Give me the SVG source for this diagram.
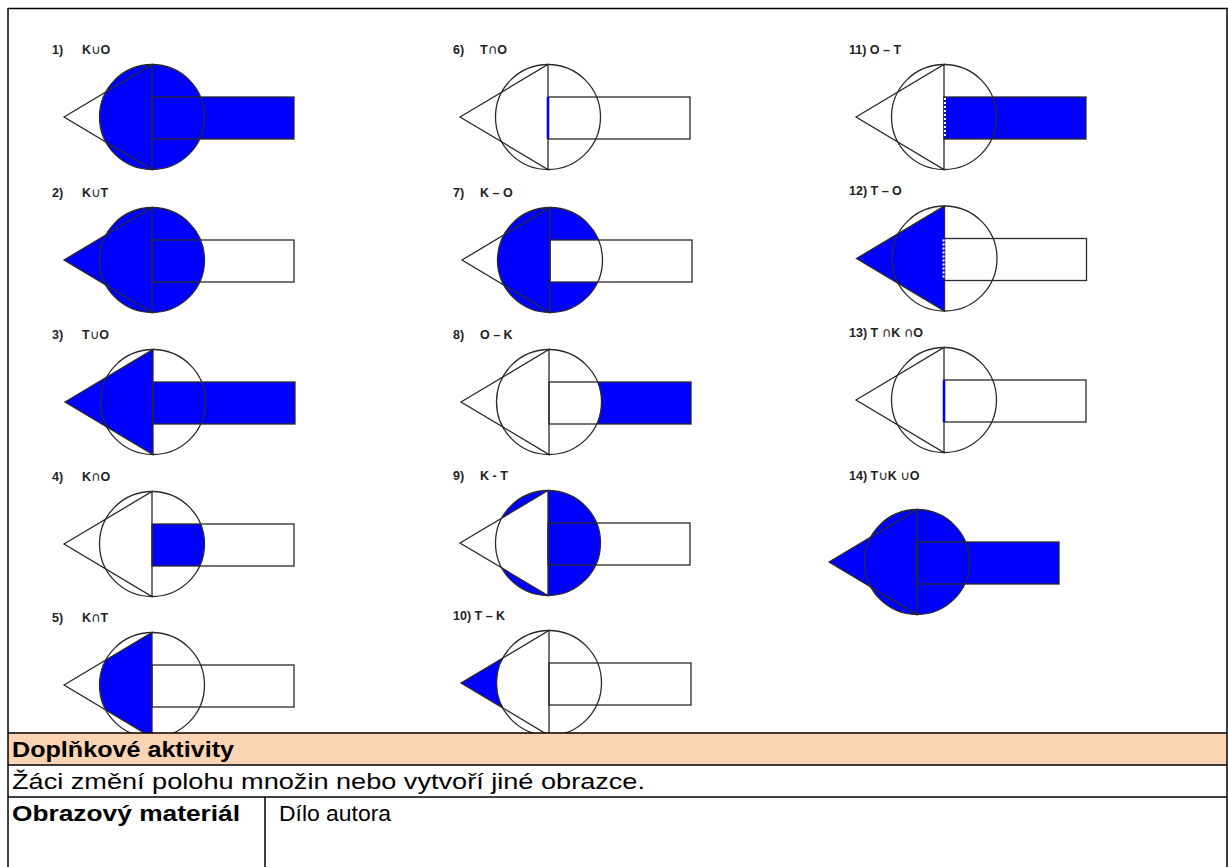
<svg xmlns="http://www.w3.org/2000/svg" xmlns:xlink="http://www.w3.org/1999/xlink" width="1228" height="867" viewBox="0 0 1228 867">
<style>
.ol{fill:none;stroke:#2a2a2a;stroke-width:1.3}
.bl{fill:#0000fe;stroke:none}
.wh{fill:#fff;stroke:none}
.seg{stroke:#0000fe;stroke-width:2.6;fill:none}
.dash{stroke:#fff;stroke-width:2;stroke-dasharray:2 2;fill:none}
.lab{font-family:"Liberation Sans","DejaVu Sans",sans-serif;font-weight:bold;font-size:12.5px;fill:#222}
.sym{font-family:"DejaVu Sans",sans-serif;font-weight:normal;font-size:13px}
.tb{font-family:"Liberation Sans",Arial,sans-serif;font-size:22px;fill:#000}
.bd{font-weight:bold}
.ln{stroke:#000;stroke-width:1.5;fill:none}
</style>
<defs>
<circle id="K" cx="0" cy="0" r="52.5"/>
<polygon id="T" points="-88,0 0,-52.5 0,52.5"/>
<rect id="O" x="0" y="-20" width="142" height="42"/>
<clipPath id="cK"><circle cx="0" cy="0" r="52.5"/></clipPath>
<g id="outl" class="ol"><use xlink:href="#K"/><use xlink:href="#T"/><use xlink:href="#O"/></g>
</defs>
<rect width="1228" height="867" fill="#fff"/>

<!-- labels -->
<g id="labels" class="lab">
<text x="52" y="54">1)<tspan x="82">K</tspan><tspan class="sym">∪</tspan>O</text>
<text x="52" y="197">2)<tspan x="82">K</tspan><tspan class="sym">∪</tspan>T</text>
<text x="52" y="339">3)<tspan x="82">T</tspan><tspan class="sym">∪</tspan>O</text>
<text x="52" y="481">4)<tspan x="82">K</tspan><tspan class="sym">∩</tspan>O</text>
<text x="52" y="622">5)<tspan x="82">K</tspan><tspan class="sym">∩</tspan>T</text>
<text x="453" y="54">6)<tspan x="480">T</tspan><tspan class="sym">∩</tspan>O</text>
<text x="453" y="197">7)<tspan x="480">K – O</tspan></text>
<text x="453" y="339">8)<tspan x="480">O – K</tspan></text>
<text x="453" y="480">9)<tspan x="480">K - T</tspan></text>
<text x="453" y="620">10) T – K</text>
<text x="849" y="54">11) O – T</text>
<text x="849" y="195">12) T – O</text>
<text x="849" y="337">13) T <tspan class="sym">∩</tspan>K <tspan class="sym">∩</tspan>O</text>
<text x="849" y="480">14) T<tspan class="sym">∪</tspan>K <tspan class="sym">∪</tspan>O</text>
</g>

<!-- 1 K∪O -->
<g id="fig1" transform="translate(152,117)">
<use xlink:href="#K" class="bl"/><use xlink:href="#O" class="bl"/><use xlink:href="#outl"/>
</g>
<!-- 2 K∪T -->
<g id="fig2" transform="translate(152,260)">
<use xlink:href="#K" class="bl"/><use xlink:href="#T" class="bl"/><use xlink:href="#outl"/>
</g>
<!-- 3 T∪O -->
<g id="fig3" transform="translate(153,402)">
<use xlink:href="#T" class="bl"/><use xlink:href="#O" class="bl"/><use xlink:href="#outl"/>
</g>
<!-- 4 K∩O -->
<g id="fig4" transform="translate(152,544)">
<use xlink:href="#O" class="bl" clip-path="url(#cK)"/><use xlink:href="#outl"/>
</g>
<!-- 5 K∩T -->
<g id="fig5" transform="translate(152,685)">
<use xlink:href="#T" class="bl" clip-path="url(#cK)"/><use xlink:href="#outl"/>
</g>
<!-- 6 T∩O -->
<g id="fig6" transform="translate(548,117)">
<use xlink:href="#outl"/><line class="seg" x1="0" y1="-20" x2="0" y2="22"/>
</g>
<!-- 7 K−O -->
<g id="fig7" transform="translate(550,260)">
<use xlink:href="#K" class="bl"/><use xlink:href="#O" class="wh"/><use xlink:href="#outl"/>
</g>
<!-- 8 O−K -->
<g id="fig8" transform="translate(549,402)">
<use xlink:href="#O" class="bl"/><use xlink:href="#K" class="wh"/><use xlink:href="#outl"/>
</g>
<!-- 9 K−T -->
<g id="fig9" transform="translate(548,543)">
<use xlink:href="#K" class="bl"/><use xlink:href="#T" class="wh"/><use xlink:href="#outl"/>
</g>
<!-- 10 T−K -->
<g id="fig10" transform="translate(549,683)">
<use xlink:href="#T" class="bl"/><use xlink:href="#K" class="wh"/><use xlink:href="#outl"/>
</g>
<!-- 11 O−T -->
<g id="fig11" transform="translate(944,117)">
<use xlink:href="#O" class="bl"/><use xlink:href="#outl"/><line class="dash" x1="1" y1="-19" x2="1" y2="21"/>
</g>
<!-- 12 T−O -->
<g id="fig12" transform="translate(944.5,258.5)">
<use xlink:href="#T" class="bl"/><use xlink:href="#outl"/><line class="dash" x1="-1" y1="-19" x2="-1" y2="21"/>
</g>
<!-- 13 T∩K∩O -->
<g id="fig13" transform="translate(944,400)">
<use xlink:href="#outl"/><line class="seg" x1="0" y1="-20" x2="0" y2="22"/>
</g>
<!-- 14 T∪K∪O -->
<g id="fig14" transform="translate(917,562)">
<use xlink:href="#K" class="bl"/><use xlink:href="#T" class="bl"/><use xlink:href="#O" class="bl"/><use xlink:href="#outl"/>
</g>

<!-- table -->
<g id="table">
<rect x="8" y="733" width="1219" height="32" fill="#fbd4b4"/>
<line class="ln" x1="8" y1="8.5" x2="1228" y2="8.5"/>
<line class="ln" x1="8" y1="8" x2="8" y2="867"/>
<line class="ln" x1="1227" y1="8" x2="1227" y2="867"/>
<line class="ln" x1="8" y1="733" x2="1227" y2="733"/>
<line class="ln" x1="8" y1="765" x2="1227" y2="765"/>
<line class="ln" x1="8" y1="797" x2="1227" y2="797"/>
<line class="ln" x1="265" y1="797" x2="265" y2="867"/>
<text class="tb bd" x="12" y="757" textLength="222" lengthAdjust="spacingAndGlyphs">Doplňkové aktivity</text>
<text class="tb" x="12" y="789" textLength="633" lengthAdjust="spacingAndGlyphs">Žáci změní polohu množin nebo vytvoří jiné obrazce.</text>
<text class="tb bd" x="12" y="821" textLength="228" lengthAdjust="spacingAndGlyphs">Obrazový materiál</text>
<text class="tb" x="279" y="821" textLength="112" lengthAdjust="spacingAndGlyphs">Dílo autora</text>
</g>
</svg>
